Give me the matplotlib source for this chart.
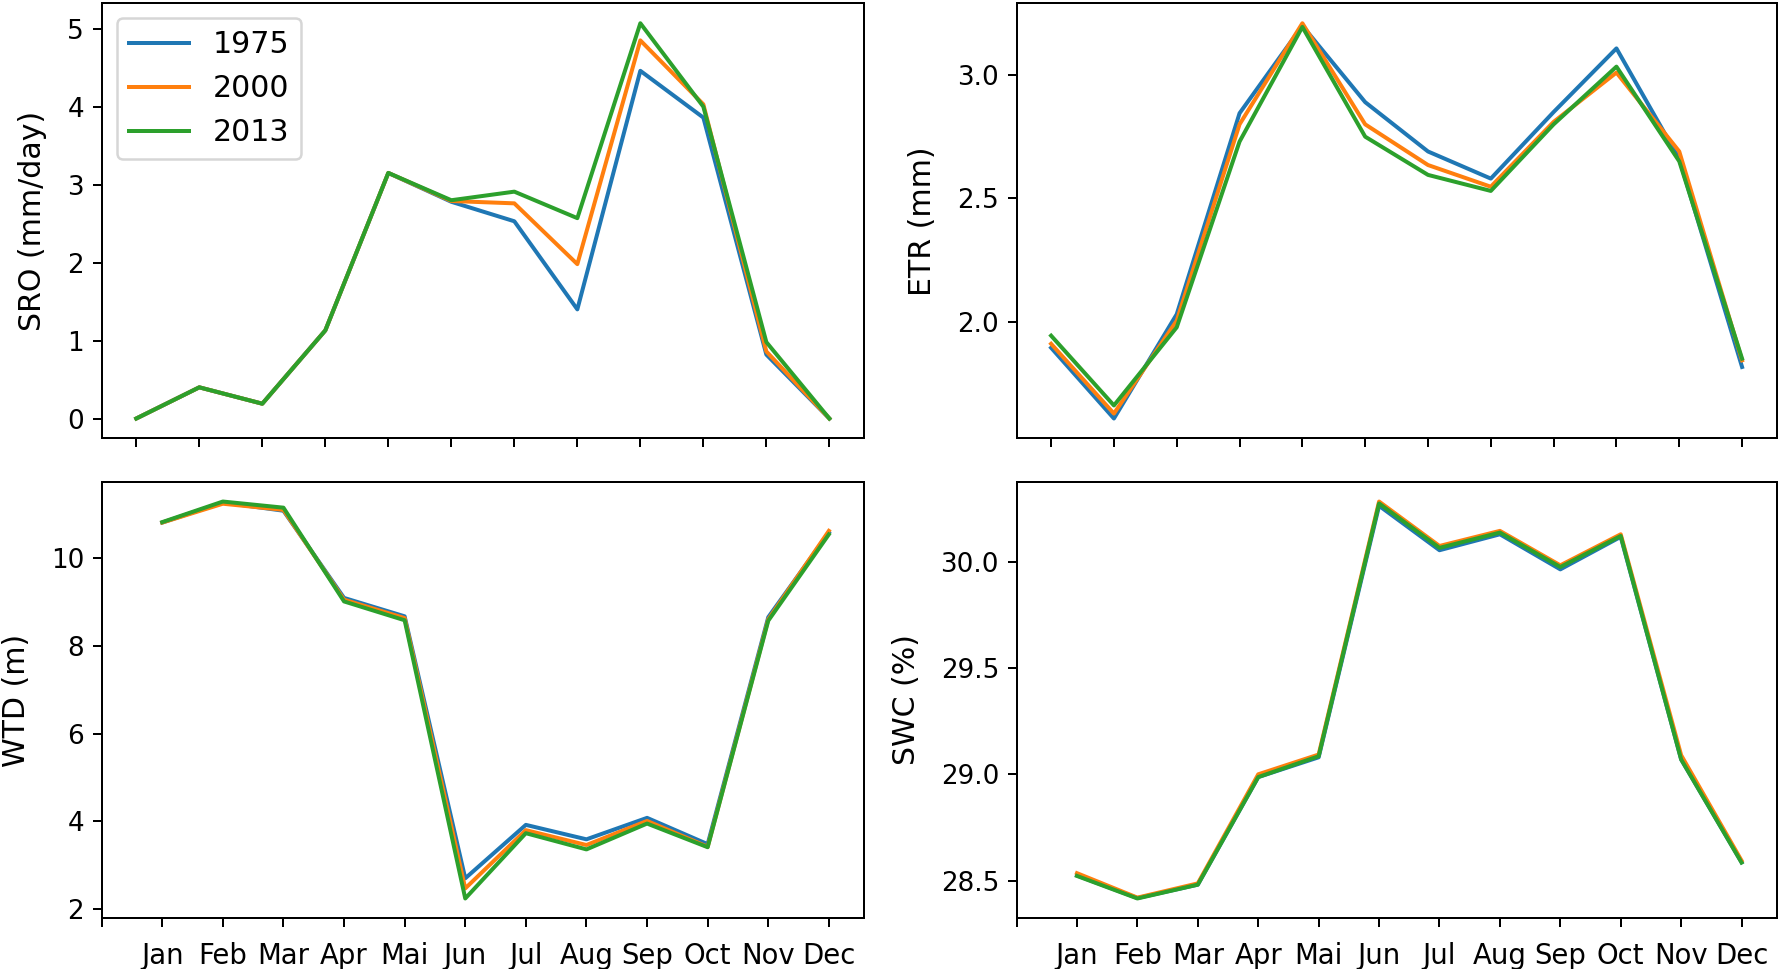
import numpy as np
import matplotlib
matplotlib.use('Agg')
import matplotlib.pyplot as plt

months = ['Jan', 'Feb', 'Mar', 'Apr', 'Mai', 'Jun', 'Jul', 'Aug', 'Sep', 'Oct', 'Nov', 'Dec']
years = ['1975', '2000', '2013']

# surface runoff (mm/day)
sro_1975 = [0.0, 0.40, 0.19, 1.13, 3.15, 2.78, 2.53, 1.40, 4.46, 3.86, 0.82, 0.0]
sro_2000 = [0.0, 0.40, 0.19, 1.13, 3.15, 2.79, 2.76, 1.98, 4.85, 4.03, 0.86, 0.0]
sro_2013 = [0.0, 0.40, 0.19, 1.13, 3.15, 2.80, 2.91, 2.57, 5.07, 4.00, 0.98, 0.0]

# evapotranspiration (mm)
etr_1975 = [1.894, 1.607, 2.030, 2.845, 3.200, 2.890, 2.690, 2.580, 2.850, 3.108, 2.660, 1.816]
etr_2000 = [1.910, 1.627, 2.004, 2.800, 3.210, 2.800, 2.635, 2.547, 2.810, 3.010, 2.690, 1.843]
etr_2013 = [1.943, 1.660, 1.977, 2.730, 3.195, 2.750, 2.595, 2.530, 2.800, 3.034, 2.650, 1.850]

# water table depth (m)
wtd_1975 = [10.82, 11.28, 11.09, 9.10, 8.68, 2.70, 3.92, 3.59, 4.08, 3.48, 8.66, 10.59]
wtd_2000 = [10.82, 11.25, 11.11, 9.06, 8.64, 2.47, 3.80, 3.46, 4.01, 3.42, 8.61, 10.63]
wtd_2013 = [10.83, 11.30, 11.16, 9.02, 8.59, 2.24, 3.73, 3.36, 3.95, 3.41, 8.58, 10.55]

# soil water content (%)
swc_1975 = [28.524, 28.418, 28.481, 28.987, 29.080, 30.263, 30.054, 30.129, 29.964, 30.117, 29.070, 28.586]
swc_2000 = [28.535, 28.420, 28.487, 29.000, 29.093, 30.283, 30.074, 30.145, 29.983, 30.129, 29.090, 28.594]
swc_2013 = [28.522, 28.416, 28.481, 28.987, 29.085, 30.274, 30.065, 30.137, 29.975, 30.121, 29.070, 28.585]

x = np.arange(1, 13)

fig = plt.figure(figsize=(1780 / 180, 969 / 180), dpi=180)
ax1 = fig.add_axes([0.0571, 0.5477, 0.4283, 0.4487])
ax2 = fig.add_axes([0.5711, 0.5477, 0.4270, 0.4487])
ax3 = fig.add_axes([0.0571, 0.0523, 0.4283, 0.4506])
ax4 = fig.add_axes([0.5711, 0.0523, 0.4270, 0.4506])

panels = [
    (ax1, [sro_1975, sro_2000, sro_2013], 'SRO (mm/day)'),
    (ax2, [etr_1975, etr_2000, etr_2013], 'ETR (mm)'),
    (ax3, [wtd_1975, wtd_2000, wtd_2013], 'WTD (m)'),
    (ax4, [swc_1975, swc_2000, swc_2013], 'SWC (%)'),
]

for ax, series, label in panels:
    for yr, vals in zip(years, series):
        ax.plot(x, vals, lw=1.6, label=yr)
    ax.set_ylabel(label, fontsize=12, labelpad=8)
    ax.tick_params(axis='y', labelsize=10.5)

# top row: ticks but no month labels
for ax in [ax1, ax2]:
    ax.set_xticks(x)
    ax.set_xticklabels([])

# bottom row: an extra tick at 0 without label
for ax in [ax3, ax4]:
    ax.set_xticks(np.arange(0, 13))
    ax.set_xticklabels([''] + months, fontsize=11)
    ax.tick_params(axis='x', pad=6)
    ax.set_xlim(0, 12.58)

ax1.set_yticks([0, 1, 2, 3, 4, 5])
ax2.set_yticks([2.0, 2.5, 3.0])
ax3.set_yticks([2, 4, 6, 8, 10])
ax4.set_yticks([28.5, 29.0, 29.5, 30.0])

ax1.legend(loc='upper left', fontsize=12)

fig.savefig('out.png', dpi=180)
